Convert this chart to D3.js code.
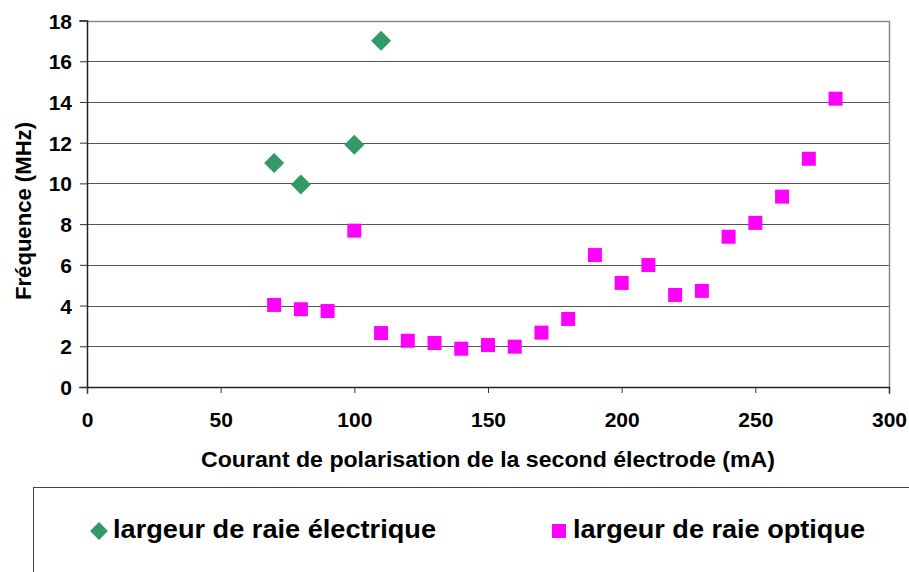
<!DOCTYPE html>
<html>
<head>
<meta charset="utf-8">
<script src="https://cdn.jsdelivr.net/npm/d3@7"></script>
<style>
  html, body { margin: 0; padding: 0; background: #fff; }
  svg { display: block; }
  text { font-family: "Liberation Sans", Arial, sans-serif; font-weight: bold; fill: #000; }
</style>
</head>
<body>
<svg id="chart" width="909" height="572"></svg>
<script>
// Courant de polarisation (mA) et largeurs de raie mesurées (MHz)
const courantElec = [70, 80, 100, 110];
const largeurElec = [11.0, 9.94, 11.9, 17.0];

const courantOpt = [70, 80, 90, 100, 110, 120, 130, 140, 150, 160, 170, 180, 190, 200, 210, 220, 230, 240, 250, 260, 270, 280];
const largeurOpt = [4.03, 3.82, 3.73, 7.68, 2.65, 2.27, 2.16, 1.88, 2.06, 1.98, 2.67, 3.34, 6.48, 5.11, 5.99, 4.52, 4.72, 7.38, 8.06, 9.35, 11.21, 14.16];

const xTicks = [0, 50, 100, 150, 200, 250, 300];
const yTicks = [0, 2, 4, 6, 8, 10, 12, 14, 16, 18];

const serieElec = "largeur de raie électrique";
const serieOpt = "largeur de raie optique";
const titreX = "Courant de polarisation de la second électrode (mA)";
const titreY = "Fréquence (MHz)";

const svg = d3.select("#chart");
const plot = { left: 87, right: 889, top: 20.5, bottom: 387 };

const x = d3.scaleLinear().domain([0, 300]).range([plot.left, plot.right]);
const y = d3.scaleLinear().domain([0, 18]).range([plot.bottom, plot.top]);

// horizontal gridlines
svg.append("g")
  .selectAll("line")
  .data(yTicks.filter(d => d > 0 && d < 18))
  .join("line")
  .attr("x1", plot.left).attr("x2", plot.right)
  .attr("y1", d => Math.round(y(d)) + 0.5).attr("y2", d => Math.round(y(d)) + 0.5)
  .attr("stroke", "#555").attr("stroke-width", 1);

// plot frame (top and right)
svg.append("path")
  .attr("d", `M${plot.left},${Math.round(plot.top) + 0.5}H${plot.right + 0.5}V${plot.bottom}`)
  .attr("fill", "none").attr("stroke", "#888").attr("stroke-width", 1.5);

// y axis
const yAxis = svg.append("g")
  .attr("transform", `translate(${plot.left},0)`)
  .call(d3.axisLeft(y).tickValues(yTicks).tickSize(7).tickPadding(8).tickFormat(d3.format("d")));
yAxis.select(".domain").attr("stroke", "#222").attr("stroke-width", 1.5);
yAxis.selectAll(".tick line").attr("stroke", "#333");
yAxis.selectAll(".tick text")
  .attr("font-size", 21).attr("font-family", null).attr("x", -15).attr("dy", "0.36em");

// x axis
const xAxis = svg.append("g")
  .attr("transform", `translate(0,${plot.bottom})`)
  .call(d3.axisBottom(x).tickValues(xTicks).tickSize(6).tickPadding(8).tickFormat(d3.format("d")));
xAxis.select(".domain").attr("stroke", "#222").attr("stroke-width", 1.5);
xAxis.selectAll(".tick line").attr("stroke", "#333");
xAxis.selectAll(".tick text")
  .attr("font-size", 21).attr("font-family", null).attr("y", 40).attr("dy", 0);
svg.selectAll(".domain").attr("stroke-linecap", "square");

// axis titles
svg.append("text")
  .attr("x", (plot.left + plot.right) / 2).attr("y", 467)
  .attr("text-anchor", "middle").attr("font-size", 22)
  .attr("textLength", 574).attr("lengthAdjust", "spacingAndGlyphs")
  .text(titreX);

svg.append("text")
  .attr("transform", "translate(31,211) rotate(-90)")
  .attr("text-anchor", "middle").attr("font-size", 22)
  .attr("textLength", 178).attr("lengthAdjust", "spacingAndGlyphs")
  .text(titreY);

// series
const vert = "#339966";
const magenta = "#FF00FF";

const diamond = d3.symbol().type(d3.symbolSquare).size(200);

svg.append("g")
  .selectAll("path")
  .data(courantElec.map((c, i) => [c, largeurElec[i]]))
  .join("path")
  .attr("d", diamond)
  .attr("transform", d => `translate(${x(d[0])},${y(d[1])}) rotate(45)`)
  .attr("fill", vert);

const side = 14;
svg.append("g")
  .selectAll("rect")
  .data(courantOpt.map((c, i) => [c, largeurOpt[i]]))
  .join("rect")
  .attr("x", d => x(d[0]) - side / 2).attr("y", d => y(d[1]) - side / 2)
  .attr("width", side).attr("height", side)
  .attr("fill", magenta);

// legend
svg.append("rect")
  .attr("x", 33.5).attr("y", 487.5).attr("width", 900).attr("height", 120)
  .attr("fill", "#fff").attr("stroke", "#444").attr("stroke-width", 1);

svg.append("path")
  .attr("d", d3.symbol().type(d3.symbolSquare).size(160))
  .attr("transform", "translate(99,531) rotate(45)")
  .attr("fill", vert);
svg.append("text")
  .attr("x", 113).attr("y", 538).attr("font-size", 26)
  .attr("textLength", 323).attr("lengthAdjust", "spacingAndGlyphs")
  .text(serieElec);

svg.append("rect")
  .attr("x", 552).attr("y", 524).attr("width", 14).attr("height", 14)
  .attr("fill", magenta);
svg.append("text")
  .attr("x", 573).attr("y", 538).attr("font-size", 26)
  .attr("textLength", 292).attr("lengthAdjust", "spacingAndGlyphs")
  .text(serieOpt);
</script>
</body>
</html>
